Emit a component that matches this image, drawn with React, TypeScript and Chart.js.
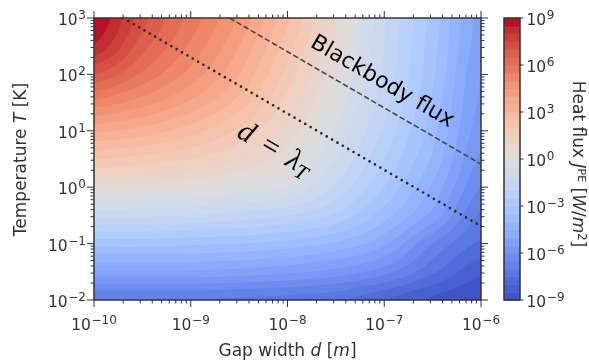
import { useEffect, useRef } from 'react';
import { Chart, registerables } from 'chart.js';

Chart.register(...registerables);

// ---- data (log10 values) ----
const logGapWidths = [-10, -9.5, -9, -8.5, -8, -7.5, -7, -6.5, -6]; // log10 d [m]
const logTemperatures = [3, 2.5, 2, 1.5, 1, 0.5, 0, -0.5, -1, -1.5, -2]; // log10 T [K]

// log10 heat flux per temperature row (columns follow logGapWidths)
const fluxT1000 = [9.0, 7.2, 5.8, 4.4, 2.6, 0.6, -1.4, -3.2, -5.2];
const fluxT316 = [8.4, 6.7, 5.4, 4.0, 2.2, 0.4, -1.5, -3.3, -5.3];
const fluxT100 = [7.0, 5.9, 4.8, 3.5, 1.8, 0.1, -1.6, -3.4, -5.5];
const fluxT31 = [5.3, 4.7, 3.9, 2.8, 1.3, -0.2, -1.8, -3.6, -5.6];
const fluxT10 = [3.6, 3.3, 2.7, 1.9, 0.8, -0.6, -2.1, -3.8, -5.8];
const fluxT3 = [2.0, 1.8, 1.5, 1.0, 0.2, -1.0, -2.5, -4.1, -6.1];
const fluxT1 = [0.4, 0.3, 0.1, -0.2, -0.5, -1.6, -3.0, -4.6, -6.5];
const fluxT0_3 = [-1.4, -1.4, -1.5, -1.7, -2.0, -2.6, -3.8, -5.2, -7.1];
const fluxT0_1 = [-3.3, -3.3, -3.4, -3.5, -3.7, -4.1, -4.9, -6.5, -7.6];
const fluxT0_03 = [-5.1, -5.1, -5.1, -5.2, -5.4, -5.7, -6.3, -7.4, -8.4];
const fluxT0_01 = [-7.0, -7.0, -7.0, -7.1, -7.2, -7.4, -8.0, -8.6, -9.0];

const fluxGrid = [fluxT1000, fluxT316, fluxT100, fluxT31, fluxT10, fluxT3, fluxT1, fluxT0_3, fluxT0_1, fluxT0_03, fluxT0_01];

// contour levels (log10 W/m^2)
const levelMin = -9;
const levelMax = 9;
const levelStep = 0.5;

// reference lines
const blackbodyGap = [10 ** -8.6, 1e-6];
const blackbodyTemp = [1e3, 10 ** 0.41];
const lambdaGap = [10 ** -9.7, 1e-6];
const lambdaTemp = [1e3, 10 ** -0.69];

// tick exponents
const gapMajorTicks = [-10, -9, -8, -7, -6];
const tempMajorTicks = [-2, -1, 0, 1, 2, 3];
const colorbarTicks = [-9, -6, -3, 0, 3, 6, 9];

// annotation anchors
const blackbodyLabelAt = { x: 10 ** -7.01, y: 10 ** 1.9 };
const lambdaLabelAt = { x: 10 ** -8.13, y: 10 ** 0.68 };

// ---- styling ----
const SANS = '"DejaVu Sans", "Noto Sans", sans-serif';
const SERIF = '"Liberation Serif", "DejaVu Serif", serif';
const INK = '#333333';

const coolwarmTable: number[][] = [
  [59, 76, 192], [68, 90, 204], [77, 104, 215], [87, 117, 225], [98, 130, 234], [108, 142, 241],
  [119, 154, 247], [130, 165, 251], [141, 176, 254], [152, 185, 255], [163, 194, 255], [174, 201, 253],
  [184, 208, 249], [194, 213, 244], [204, 217, 238], [213, 219, 230], [221, 221, 221], [229, 216, 209],
  [236, 211, 197], [241, 204, 185], [245, 196, 173], [247, 187, 160], [247, 177, 148], [247, 166, 135],
  [244, 154, 123], [241, 141, 111], [236, 127, 99], [229, 112, 88], [222, 96, 77], [213, 80, 66],
  [203, 62, 56], [192, 40, 47], [180, 4, 38],
];

function coolwarm(t: number): number[] {
  const c = Math.min(Math.max(t, 0), 1) * (coolwarmTable.length - 1);
  const i = Math.min(Math.floor(c), coolwarmTable.length - 2);
  const f = c - i;
  const a = coolwarmTable[i];
  const b = coolwarmTable[i + 1];
  return [0, 1, 2].map((k) => Math.round(a[k] + (b[k] - a[k]) * f));
}

const nLevels = Math.round((levelMax - levelMin) / levelStep);
const bandColors: number[][] = [];
for (let i = 0; i < nLevels; i++) {
  const lo = levelMin + i * levelStep;
  const hi = lo + levelStep;
  const mid = Math.log10((10 ** lo + 10 ** hi) / 2);
  bandColors.push(coolwarm((mid - levelMin) / (levelMax - levelMin)));
}

function cubic(p0: number, p1: number, p2: number, p3: number, t: number) {
  return p1 + 0.5 * t * (p2 - p0 + t * (2 * p0 - 5 * p1 + 4 * p2 - p3 + t * (3 * (p1 - p2) + p3 - p0)));
}

function sampleFlux(lx: number, ly: number): number {
  const nc = logGapWidths.length;
  const nr = logTemperatures.length;
  const du = logGapWidths[1] - logGapWidths[0];
  const dv = logTemperatures[1] - logTemperatures[0];
  const u = (lx - logGapWidths[0]) / du;
  const v = (ly - logTemperatures[0]) / dv;
  const clamp = (k: number, n: number) => Math.min(Math.max(k, 0), n - 1);
  const i = Math.min(Math.max(Math.floor(u), 0), nc - 2);
  const j = Math.min(Math.max(Math.floor(v), 0), nr - 2);
  const fu = Math.min(Math.max(u - i, 0), 1);
  const fv = Math.min(Math.max(v - j, 0), 1);
  const row = (r: number) => {
    const g = fluxGrid[clamp(r, nr)];
    return cubic(g[clamp(i - 1, nc)], g[clamp(i, nc)], g[clamp(i + 1, nc)], g[clamp(i + 2, nc)], fu);
  };
  return cubic(row(j - 1), row(j), row(j + 1), row(j + 2), fv);
}

type Run = { t: string; font: string; dy?: number };

function drawRuns(ctx: CanvasRenderingContext2D, runs: Run[], x: number, y: number, align: 'left' | 'center' | 'right') {
  let w = 0;
  const ws: number[] = [];
  for (const r of runs) {
    ctx.font = r.font;
    const m = ctx.measureText(r.t).width;
    ws.push(m);
    w += m;
  }
  let cx = align === 'left' ? x : align === 'center' ? x - w / 2 : x - w;
  ctx.textAlign = 'left';
  ctx.textBaseline = 'alphabetic';
  runs.forEach((r, k) => {
    ctx.font = r.font;
    ctx.fillText(r.t, cx, y + (r.dy || 0));
    cx += ws[k];
  });
}

const TICK_FONT = `15.5px ${SANS}`;
const SUP_FONT = `12px ${SANS}`;

function powRuns(k: number): Run[] {
  const e = k < 0 ? '\u2212' + Math.abs(k) : String(k);
  return [
    { t: '10', font: TICK_FONT },
    { t: ' ', font: `2px ${SANS}` },
    { t: e, font: SUP_FONT, dy: -6 },
  ];
}

const fieldPlugin = {
  id: 'fluxField',
  beforeDatasetsDraw(chart: any) {
    const { ctx, chartArea: a, scales } = chart;
    const xs = scales.x;
    const ys = scales.y;
    const S = 2;
    const w = Math.round(a.right - a.left);
    const h = Math.round(a.bottom - a.top);
    const off = document.createElement('canvas');
    off.width = w * S;
    off.height = h * S;
    const octx = off.getContext('2d')!;
    const img = octx.createImageData(w * S, h * S);
    const lxs: number[] = [];
    for (let i = 0; i < w * S; i++) lxs.push(Math.log10(xs.getValueForPixel(a.left + (i + 0.5) / S)));
    for (let j = 0; j < h * S; j++) {
      const ly = Math.log10(ys.getValueForPixel(a.top + (j + 0.5) / S));
      for (let i = 0; i < w * S; i++) {
        const v = sampleFlux(lxs[i], ly);
        const b = Math.min(Math.max(Math.floor((v - levelMin) / levelStep), 0), nLevels - 1);
        const c = bandColors[b];
        const p = (j * w * S + i) * 4;
        img.data[p] = c[0];
        img.data[p + 1] = c[1];
        img.data[p + 2] = c[2];
        img.data[p + 3] = 255;
      }
    }
    octx.putImageData(img, 0, 0);
    ctx.save();
    ctx.imageSmoothingEnabled = true;
    (ctx as any).imageSmoothingQuality = 'high';
    ctx.drawImage(off, a.left, a.top, w, h);
    ctx.restore();
  },
  afterDatasetsDraw(chart: any) {
    const { ctx, chartArea: a, scales } = chart;
    const xs = scales.x;
    const ys = scales.y;
    const cb = scales.cb;
    ctx.save();

    // frame
    ctx.strokeStyle = INK;
    ctx.lineWidth = 1.5;
    ctx.strokeRect(a.left, a.top, a.right - a.left, a.bottom - a.top);

    // ticks
    ctx.lineWidth = 1;
    ctx.beginPath();
    const major = 7;
    const minor = 3.5;
    for (let k = gapMajorTicks[0]; k <= gapMajorTicks[gapMajorTicks.length - 1]; k++) {
      const px = xs.getPixelForValue(10 ** k);
      ctx.moveTo(px, a.bottom); ctx.lineTo(px, a.bottom + major);
      ctx.moveTo(px, a.top); ctx.lineTo(px, a.top - major);
      if (k < gapMajorTicks[gapMajorTicks.length - 1]) {
        for (let m = 2; m <= 9; m++) {
          const q = xs.getPixelForValue(m * 10 ** k);
          ctx.moveTo(q, a.bottom); ctx.lineTo(q, a.bottom + minor);
          ctx.moveTo(q, a.top); ctx.lineTo(q, a.top - minor);
        }
      }
    }
    for (let k = tempMajorTicks[0]; k <= tempMajorTicks[tempMajorTicks.length - 1]; k++) {
      const py = ys.getPixelForValue(10 ** k);
      ctx.moveTo(a.left, py); ctx.lineTo(a.left - major, py);
      ctx.moveTo(a.right, py); ctx.lineTo(a.right + major, py);
      if (k < tempMajorTicks[tempMajorTicks.length - 1]) {
        for (let m = 2; m <= 9; m++) {
          const q = ys.getPixelForValue(m * 10 ** k);
          ctx.moveTo(a.left, q); ctx.lineTo(a.left - minor, q);
          ctx.moveTo(a.right, q); ctx.lineTo(a.right + minor, q);
        }
      }
    }
    ctx.stroke();

    // tick labels
    ctx.fillStyle = INK;
    for (const k of gapMajorTicks) {
      drawRuns(ctx, powRuns(k), xs.getPixelForValue(10 ** k), a.bottom + 29.5, 'center');
    }
    for (const k of tempMajorTicks) {
      drawRuns(ctx, powRuns(k), a.left - 8, ys.getPixelForValue(10 ** k) + 7, 'right');
    }

    // axis titles
    const TITLE = `17px ${SANS}`;
    const TITLE_I = `italic 17px ${SANS}`;
    drawRuns(ctx, [
      { t: 'Gap width ', font: TITLE }, { t: 'd', font: TITLE_I }, { t: ' [', font: TITLE },
      { t: 'm', font: TITLE_I }, { t: ']', font: TITLE },
    ], (a.left + a.right) / 2, 356, 'center');
    ctx.save();
    ctx.translate(25.5, (a.top + a.bottom) / 2 + 0.5);
    ctx.rotate(-Math.PI / 2);
    drawRuns(ctx, [
      { t: 'Temperature ', font: TITLE }, { t: 'T', font: TITLE_I }, { t: ' [K]', font: TITLE },
    ], 0, 0, 'center');
    ctx.restore();

    // colorbar
    const cbL = 504;
    const cbW = 16;
    const cbTop = cb.getPixelForValue(10 ** levelMax);
    const cbBot = cb.getPixelForValue(10 ** levelMin);
    for (let i = 0; i < nLevels; i++) {
      const lo = levelMin + i * levelStep;
      const y1 = cb.getPixelForValue(10 ** lo);
      const y2 = cb.getPixelForValue(10 ** (lo + levelStep));
      const c = bandColors[i];
      ctx.fillStyle = `rgb(${c[0]},${c[1]},${c[2]})`;
      ctx.fillRect(cbL, y2, cbW, y1 - y2 + 0.6);
    }
    ctx.strokeStyle = INK;
    ctx.lineWidth = 1.5;
    ctx.strokeRect(cbL, cbTop, cbW, cbBot - cbTop);
    ctx.lineWidth = 1;
    ctx.beginPath();
    for (const k of colorbarTicks) {
      const py = cb.getPixelForValue(10 ** k);
      ctx.moveTo(cbL + cbW, py); ctx.lineTo(cbL + cbW + 3.5, py);
    }
    ctx.stroke();
    ctx.fillStyle = INK;
    for (const k of colorbarTicks) {
      drawRuns(ctx, powRuns(k), cbL + cbW + 6.5, cb.getPixelForValue(10 ** k) + 7, 'left');
    }
    ctx.save();
    ctx.translate(572.5, (cbTop + cbBot) / 2 + 5);
    ctx.rotate(Math.PI / 2);
    drawRuns(ctx, [
      { t: 'Heat flux ', font: TITLE }, { t: 'J', font: TITLE_I },
      { t: 'PE', font: `11px ${SANS}`, dy: -5.5 }, { t: ' [', font: TITLE },
      { t: 'W', font: TITLE_I }, { t: '/', font: TITLE }, { t: 'm', font: TITLE_I },
      { t: '2', font: `11.5px ${SANS}`, dy: -5.5 }, { t: ']', font: TITLE },
    ], 0, 0, 'center');
    ctx.restore();

    // annotations along the lines
    const ang = Math.atan2(
      ys.getPixelForValue(blackbodyTemp[1]) - ys.getPixelForValue(blackbodyTemp[0]),
      xs.getPixelForValue(blackbodyGap[1]) - xs.getPixelForValue(blackbodyGap[0]),
    );
    ctx.fillStyle = '#000';
    ctx.save();
    ctx.translate(xs.getPixelForValue(blackbodyLabelAt.x), ys.getPixelForValue(blackbodyLabelAt.y));
    ctx.rotate(ang);
    drawRuns(ctx, [{ t: 'Blackbody flux', font: `22px ${SANS}` }], 0, 8, 'center');
    ctx.restore();

    const ang2 = Math.atan2(
      ys.getPixelForValue(lambdaTemp[1]) - ys.getPixelForValue(lambdaTemp[0]),
      xs.getPixelForValue(lambdaGap[1]) - xs.getPixelForValue(lambdaGap[0]),
    );
    ctx.save();
    ctx.translate(xs.getPixelForValue(lambdaLabelAt.x), ys.getPixelForValue(lambdaLabelAt.y));
    ctx.rotate(ang2);
    const MF = 30;
    drawRuns(ctx, [
      { t: 'd', font: `italic ${MF}px ${SERIF}` },
      { t: '\u2009\u2009', font: `${MF}px ${SERIF}` },
      { t: '=', font: `${MF}px ${SERIF}` },
      { t: '\u2009\u2009', font: `${MF}px ${SERIF}` },
      { t: '\u03bb', font: `italic ${MF}px ${SERIF}` },
      { t: 'T', font: `italic ${MF * 0.7}px ${SERIF}`, dy: 5 },
    ], 0, 9, 'center');
    ctx.restore();

    ctx.restore();
  },
};

export default function App() {
  const canvasRef = useRef<HTMLCanvasElement | null>(null);

  useEffect(() => {
    const canvas = canvasRef.current;
    if (!canvas) return;
    const chart = new Chart(canvas, {
      type: 'scatter',
      data: {
        datasets: [
          {
            label: 'Blackbody flux',
            data: blackbodyGap.map((d, i) => ({ x: d, y: blackbodyTemp[i] })),
            showLine: true,
            borderColor: '#484848',
            borderWidth: 1.6,
            borderDash: [5.6, 2.6],
            pointRadius: 0,
          },
          {
            label: 'd = λT',
            data: lambdaGap.map((d, i) => ({ x: d, y: lambdaTemp[i] })),
            showLine: true,
            borderColor: '#2a2a2a',
            borderWidth: 2.7,
            borderDash: [0, 6.2],
            borderCapStyle: 'round',
            pointRadius: 0,
          },
        ],
      },
      options: {
        responsive: false,
        animation: false,
        layout: { padding: { left: 94, right: 108, top: 18, bottom: 62 } },
        scales: {
          x: { type: 'logarithmic', min: 1e-10, max: 1e-6, display: false },
          y: { type: 'logarithmic', min: 1e-2, max: 1e3, display: false },
          cb: { type: 'logarithmic', axis: 'y', position: 'right', min: 1e-9, max: 1e9, display: false },
        },
        plugins: { legend: { display: false }, tooltip: { enabled: false } },
      },
      plugins: [fieldPlugin],
    } as any);
    return () => chart.destroy();
  }, []);

  return (
    <div style={{ position: 'fixed', left: 0, top: 0, width: 589, height: 362, background: '#fff' }}>
      <canvas ref={canvasRef} width={589} height={362} style={{ display: 'block' }} />
    </div>
  );
}
